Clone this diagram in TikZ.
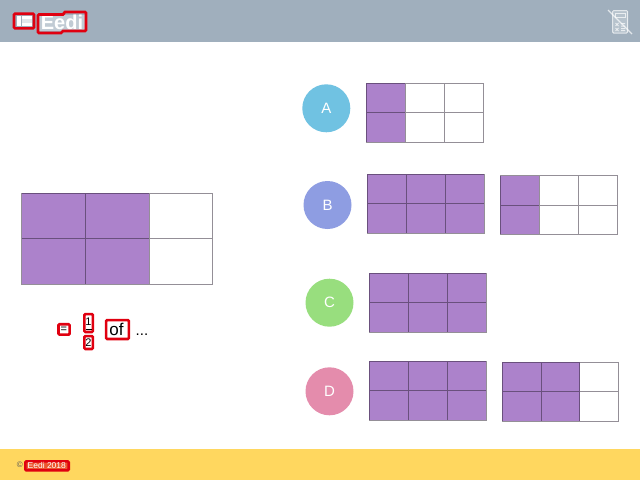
\documentclass[tikz,border=0pt]{standalone}
\usepackage{fontspec}
\setmainfont{Liberation Sans}
\definecolor{hdr}{HTML}{A0AFBD}
\definecolor{ftr}{HTML}{FFD75F}
\definecolor{purp}{HTML}{AC82CB}
\definecolor{gridc}{HTML}{2A2030}
\definecolor{mark}{HTML}{E00010}
\definecolor{ca}{HTML}{70C2E2}
\definecolor{cb}{HTML}{8E9DE2}
\definecolor{cc}{HTML}{98DE7E}
\definecolor{cd}{HTML}{E48CAC}
\tikzset{
 x=1pt,y=-1pt,
 opt/.style={circle,minimum size=48pt,inner sep=0pt,text=white,font=\fontsize{15}{15}\selectfont},
 hl/.style={draw=mark,line width=2.6pt,rounded corners=1pt},
 cellgrid/.style={draw=gridc,draw opacity=0.5,line width=1pt},
}
% \gridbox{x0}{y0}{x1}{y1}{cols}{filled}: two rows; filled columns from the left
\newcommand{\gridbox}[6]{%
 \pgfmathsetmacro{\cw}{(#3-#1)/#5}%
 \pgfmathsetmacro{\ym}{(#2+#4)/2}%
 \fill[purp] (#1,#2) rectangle ({#1+#6*\cw},#4);%
 \draw[cellgrid] (#1,#2) rectangle (#3,#4) (#1,\ym) -- (#3,\ym)
   ({#1+\cw},#2) -- ({#1+\cw},#4) ({#1+2*\cw},#2) -- ({#1+2*\cw},#4);%
}
\begin{document}
\begin{tikzpicture}
\useasboundingbox (0,0) rectangle (640,480);
\fill[white] (0,0) rectangle (640,480);
\fill[hdr] (0,0) rectangle (640,42);
\fill[ftr] (0,449) rectangle (640,480);
% logo
\fill[white] (16.5,16) rectangle (20.5,26);
\fill[white] (22,16) rectangle (32,18.8);
\fill[white!70!hdr] (22,18.8) rectangle (32,22.7);
\fill[white] (22,22.7) rectangle (32,26);
\draw[hl] (14,13.7) rectangle (34,28.3);
\fill[white!35!hdr] (39,15) rectangle (85,31);
\node[text=white,font=\bfseries\fontsize{20}{20}\selectfont,inner sep=0pt] (logo) at (62,22.5) {Eedi};
\draw[hl] (38,14.5) -- (64,14.5) -- (64,12) -- (86,12) -- (86,31) -- (62,31) -- (62,33) -- (38,33) -- cycle;
% calculator icon
\begin{scope}[draw=white,draw opacity=0.7,line width=1pt]
\fill[white,opacity=0.25] (612.7,10.5) rectangle (627.5,33);
\draw[rounded corners=1pt] (612.7,10.5) rectangle (627.5,33);
\draw (615.5,13.5) rectangle (625,17.5);
\draw (615.5,23) -- (618.5,26) (618.5,23) -- (615.5,26) (621,23.5) -- (625,23.5) (621,26) -- (625,26)
      (615.5,28) -- (618.5,31) (618.5,28) -- (615.5,31) (621,28.5) -- (625,28.5) (621,30.5) -- (625,30.5);
\draw[line width=1.1pt] (608,10) -- (632,34);
\end{scope}
% main grid
\gridbox{21.7}{193}{212.7}{284}{3}{2}
% fraction
\node[font=\fontsize{11}{11}\selectfont,inner sep=0pt] (eq) at (63.8,329.5) {=};
\draw[hl] (58.5,324.2) rectangle (69.6,334.6);
\node[font=\fontsize{11}{11}\selectfont,inner sep=0pt] (num) at (88.5,321.5) {1};
\draw[hl] (84.4,314.1) rectangle (92.9,332);
\draw[line width=0.8pt] (85.5,329.3) -- (92,329.3);
\node[font=\fontsize{11}{11}\selectfont,inner sep=0pt] (den) at (88.5,342.5) {2};
\draw[hl] (84.4,336.1) rectangle (92.9,349);
\node[font=\fontsize{17}{17}\selectfont,inner sep=0pt,anchor=base] (of) at (116.5,335) {of};
\draw[hl] (106.1,320.1) rectangle (128.9,339);
\node[font=\fontsize{15}{15}\selectfont,inner sep=0pt,anchor=base] (dots) at (142,335) {...};
% options
\node[opt,fill=ca] (A) at (326.3,108.3) {A};
\node[opt,fill=cb] (B) at (327.5,205) {B};
\node[opt,fill=cc] (C) at (329.5,302.7) {C};
\node[opt,fill=cd] (D) at (329.5,391.3) {D};
\gridbox{366.3}{83.3}{483}{142}{3}{1}
\gridbox{367.3}{174.3}{484.3}{233}{3}{3}
\gridbox{500.3}{175.7}{617}{234.3}{3}{1}
\gridbox{369.3}{273.3}{486.3}{332}{3}{3}
\gridbox{369.3}{361}{486.3}{420}{3}{3}
\gridbox{502.3}{362.3}{618.7}{421.3}{3}{2}
% footer
\node[font=\fontsize{8}{8}\selectfont,text=black!65,inner sep=0pt] (copy) at (19.8,465) {©};
\draw[hl,fill=mark,fill opacity=0.6] (25.3,461.3) rectangle (68.7,470.3);
\node[font=\fontsize{8.5}{8.5}\selectfont,text=white,inner sep=0pt] (ft) at (46.8,465.8) {Eedi 2018};
\end{tikzpicture}
\end{document}
